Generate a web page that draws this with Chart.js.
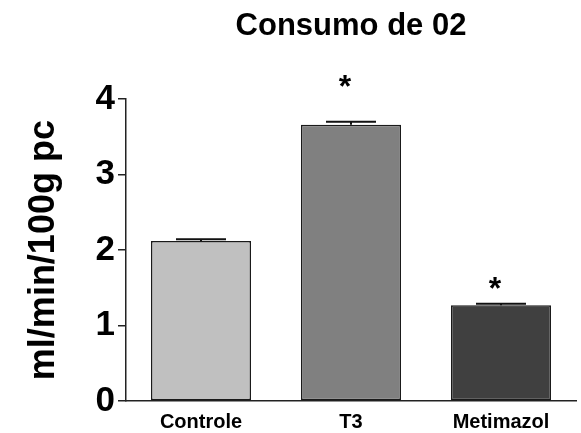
<!DOCTYPE html>
<html>
<head>
<meta charset="utf-8">
<script src="https://cdn.jsdelivr.net/npm/chart.js@4"></script>
<style>
  html, body { margin:0; padding:0; background:#fff; }
  #wrap { width:581px; height:433px; }
</style>
</head>
<body>
<div id="wrap"><canvas id="chart" width="581" height="433"></canvas></div>
<script>
const groups = ["Controle", "T3", "Metimazol"];
const means = [2.12, 3.66, 1.27];
const sems = [0.025, 0.04, 0.02];
const stars = ["", "*", "*"];
const starAt = [null, 4.25, 1.57];
const yTicks = [0, 1, 2, 3, 4];
const colors = ["#c0c0c0", "#808080", "#404040"];

const FONT = "'Liberation Sans', Arial, sans-serif";

// error bars + asterisks drawn after the bars
const extras = {
  id: "extras",
  afterDatasetsDraw(chart){
    const ctx = chart.ctx;
    const x = chart.scales.x, y = chart.scales.y;
    ctx.save();
    ctx.strokeStyle = "#111";
    ctx.lineWidth = 2;
    means.forEach((m,i)=>{
      const cx = x.getPixelForValue(i);
      const top = y.getPixelForValue(m + sems[i]);
      const base = y.getPixelForValue(m);
      ctx.beginPath();
      ctx.moveTo(cx, base); ctx.lineTo(cx, top);
      ctx.moveTo(cx-25, top); ctx.lineTo(cx+25, top);
      ctx.stroke();
    });
    ctx.fillStyle = "#000";
    ctx.font = "bold 32px " + FONT;
    ctx.textAlign = "center";
    ctx.textBaseline = "middle";
    stars.forEach((s,i)=>{
      if(!s) return;
      ctx.fillText(s, x.getPixelForValue(i) - 6, y.getPixelForValue(starAt[i]) + 8);
    });
    ctx.restore();
  }
};

new Chart(document.getElementById("chart"), {
  type: "bar",
  data: {
    labels: groups,
    datasets: [{
      data: means,
      backgroundColor: colors,
      borderColor: "#1a1a1a",
      borderWidth: 1.5,
      borderSkipped: false,
      barPercentage: 0.667,
      categoryPercentage: 1
    }]
  },
  options: {
    responsive: false,
    animation: false,
    layout: { padding: { top: 0, right: 5, bottom: 0, left: 0 } },
    plugins: {
      legend: { display: false },
      tooltip: { enabled: false },
      title: {
        display: true,
        text: "Consumo de 02",
        fullSize: false,
        color: "#000",
        font: { family: FONT, size: 31, weight: "bold" },
        padding: { top: 8, bottom: 54 }
      }
    },
    scales: {
      x: {
        grid: { display: false, drawTicks: false },
        border: { display: true, color: "#222", width: 1.5 },
        ticks: { color: "#000", font: { family: FONT, size: 20, weight: "bold" }, padding: 9 },
        afterFit(s){ s.height = 32; }
      },
      y: {
        min: 0, max: 4,
        afterBuildTicks(s){ s.ticks = yTicks.map(v=>({value:v})); },
        grid: { drawOnChartArea: false, drawTicks: true, tickLength: 8, color: "#222", lineWidth: 1.5 },
        border: { display: true, color: "#222", width: 1.5 },
        ticks: { color: "#000", font: { family: FONT, size: 35, weight: "bold" }, padding: 3 },
        title: {
          display: true,
          text: "ml/min/100g pc",
          color: "#000",
          font: { family: FONT, size: 36, weight: "bold" },
          padding: { top: 22, bottom: 0 }
        },
        afterFit(s){ s.width = 126; }
      }
    }
  },
  plugins: [extras]
});
</script>
</body>
</html>
